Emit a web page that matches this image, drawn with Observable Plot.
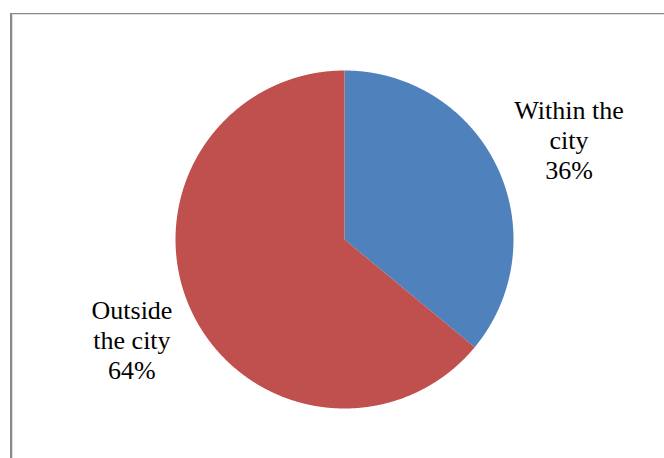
<!DOCTYPE html>
<html>
<head>
<meta charset="utf-8">
<script src="https://cdn.jsdelivr.net/npm/d3@7"></script>
<script src="https://cdn.jsdelivr.net/npm/@observablehq/plot@0.6"></script>
<style>
  html, body { margin: 0; padding: 0; background: white; }
  #wrap { position: relative; width: 664px; height: 458px; overflow: hidden; }
  #frame { position: absolute; left: 10px; top: 13px; width: 700px; height: 500px;
           border-left: 2px solid #8a8a8a; border-top: 1px solid #8a8a8a; }
  #frame2 { position: absolute; left: 12px; top: 14px; width: 700px; height: 500px;
           border-left: 1px solid #e0e0e0; border-top: 1px solid #e0e0e0; }
  #chart { position: absolute; left: 0; top: 0; }
  #chart svg text { font-family: "Liberation Serif", "Times New Roman", serif !important; }
</style>
</head>
<body>
<div id="wrap">
  <div id="frame"></div>
  <div id="frame2"></div>
  <div id="chart"></div>
</div>
<script>
const categories = ["Within the city", "Outside the city"];
const values = [36, 64];
const labels = ["Within the\ncity\n36%", "Outside\nthe city\n64%"];
const colors = ["#4F81BD", "#C0504D"];

const data = categories.map((c, i) => ({cat: c, value: values[i], label: labels[i]}));
const arcs = d3.pie().sort(null).value(d => d.value)(data);

// polygon vertices for each slice (angles clockwise from top)
const pts = [];
arcs.forEach(a => {
  pts.push({cat: a.data.cat, x: 0, y: 0});
  const n = Math.max(2, Math.ceil((a.endAngle - a.startAngle) / (Math.PI / 720)));
  for (let k = 0; k <= n; k++) {
    const t = a.startAngle + (a.endAngle - a.startAngle) * k / n;
    pts.push({cat: a.data.cat, x: Math.sin(t), y: Math.cos(t)});
  }
});

const labelPts = arcs.map(a => {
  const m = (a.startAngle + a.endAngle) / 2;
  return {cat: a.data.cat, label: a.data.label, x: 1.39 * Math.sin(m), y: 1.39 * Math.cos(m)};
});

const textOpts = {
  x: "x", y: "y", text: "label", fontSize: 26, lineHeight: 30 / 26,
  fontFamily: "Liberation Serif", fill: "black",
  textAnchor: "middle"
};

const chart = Plot.plot({
  width: 664,
  height: 458,
  margin: 0,
  style: {background: "transparent", fontFamily: "Liberation Serif"},
  x: {domain: [-1, 1], range: [175, 513], axis: null},
  y: {domain: [-1, 1], range: [408, 70], axis: null},
  color: {domain: categories, range: colors},
  marks: [
    Plot.line(pts, {x: "x", y: "y", z: "cat", fill: "cat", stroke: "none", curve: "linear-closed"}),
    Plot.text([labelPts[0]], {...textOpts, dx: 12}),
    Plot.text([labelPts[1]], {...textOpts})
  ]
});
document.getElementById("chart").appendChild(chart);
</script>
</body>
</html>
